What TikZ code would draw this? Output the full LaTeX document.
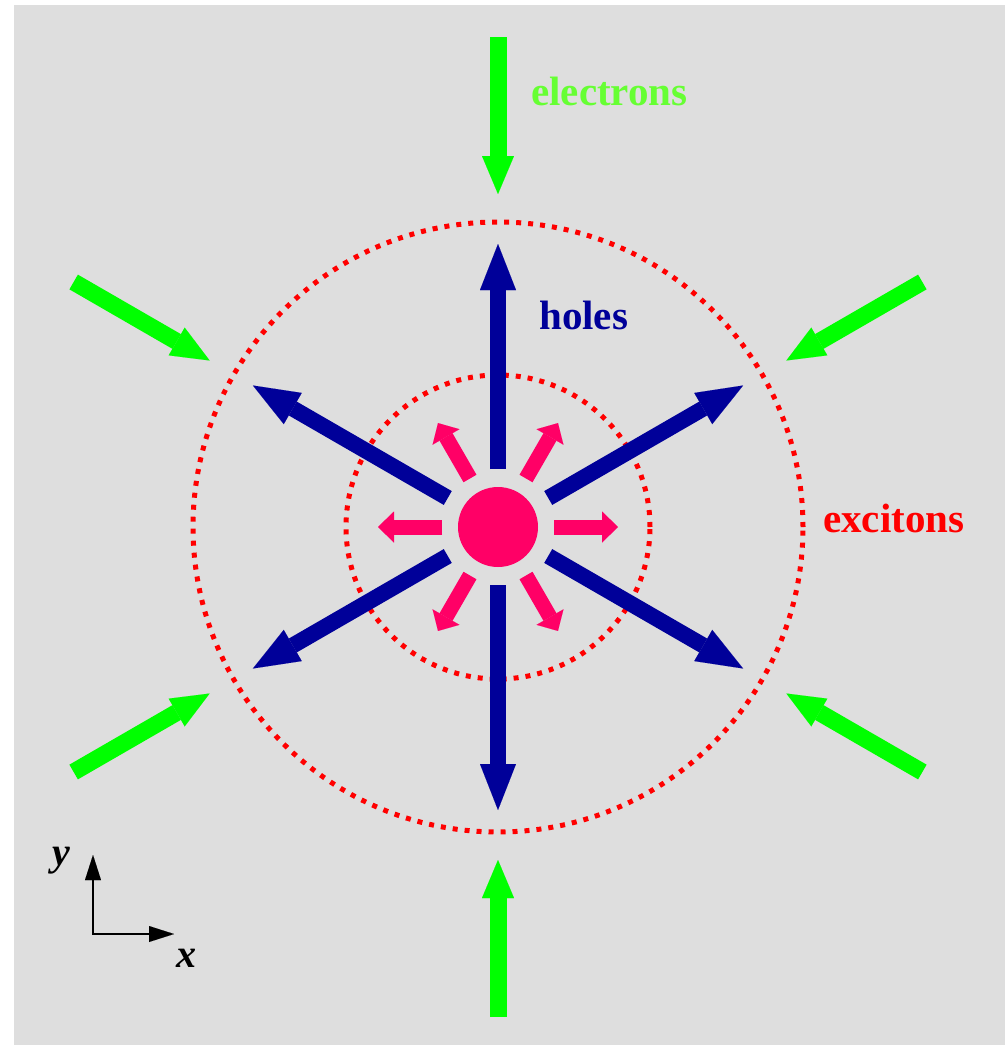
\documentclass[tikz,border=0pt]{standalone}
\usepackage{fontspec}
\setmainfont{Liberation Serif}
\usetikzlibrary{arrows.meta,calc}
\definecolor{bgc}{HTML}{DEDEDE}
\definecolor{navy}{HTML}{000099}
\definecolor{pinkc}{HTML}{FF0066}
\definecolor{grn}{HTML}{00FF00}
\definecolor{grntext}{HTML}{66FF33}
\definecolor{redc}{HTML}{FF0000}
\tikzset{
  holearrow/.style={navy, line width=16pt, -{Triangle[length=46pt,width=36pt,line width=0.01pt]}},
  excarrow/.style={pinkc, line width=15pt, -{Triangle[length=16pt,width=31pt,line width=0.01pt]}},
  elarrow/.style={grn, line width=17pt, -{Triangle[length=38pt,width=32pt,line width=0.01pt]}},
  dotcircle/.style={redc, line width=5pt, dash pattern=on 5pt off 7pt},
  lbl/.style={inner sep=0pt, anchor=base west, font=\fontsize{41}{48}\selectfont\bfseries},
  axlbl/.style={inner sep=0pt, anchor=base west, font=\fontsize{40}{48}\selectfont\bfseries\itshape},
  axarrow/.style={black, line width=2pt},
}
\begin{document}
\begin{tikzpicture}[x=1pt,y=-1pt]
\useasboundingbox (0,0) rectangle (1005,1045);
\fill[white] (0,0) rectangle (1005,1045);
\fill[bgc] (14,5) rectangle (1005,1045);
\coordinate (c) at (498,527);
% dotted circles
\draw[dotcircle] (c) circle[radius=305pt];
\draw[dotcircle] (c) circle[radius=152pt];
% central exciton source
\fill[pinkc] (c) circle[radius=40pt];
% arrows
\foreach \a in {30,90,150,210,270,330}{
  \coordinate (hs\a) at ($(c)+(\a:58pt)$);
  \coordinate (ht\a) at ($(c)+(\a:283pt)$);
  \coordinate (es\a) at ($(c)+(\a:490pt)$);
  \coordinate (et\a) at ($(c)+(\a:333pt)$);
  \draw[holearrow] (hs\a) -- (ht\a);
  \draw[elarrow] (es\a) -- (et\a);
}
\foreach \a in {0,60,120,180,240,300}{
  \coordinate (xs\a) at ($(c)+(\a:56pt)$);
  \coordinate (xt\a) at ($(c)+(\a:120pt)$);
  \draw[excarrow] (xs\a) -- (xt\a);
}
% labels
\node[lbl, text=grntext] (electrons) at (531,105) {electrons};
\node[lbl, text=navy] (holes) at (539,329) {holes};
\node[lbl, text=redc] (excitons) at (823,532) {excitons};
% axes
\coordinate (o) at (93,934);
\coordinate (ytip) at (93,855);
\coordinate (xtip) at (174,934);
\draw[axarrow, {Triangle[length=25pt,width=16pt,line width=0.01pt]}-{Triangle[length=25pt,width=16pt,line width=0.01pt]}] (ytip) -- (o) -- (xtip);
\node[axlbl] (ylab) at (52,865) {y};
\node[axlbl] (xlab) at (176,967) {x};
\end{tikzpicture}
\end{document}
